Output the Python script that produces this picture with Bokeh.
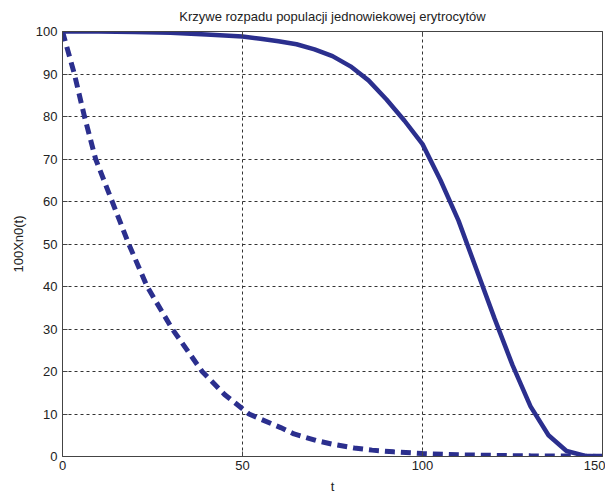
from bokeh.plotting import figure
from bokeh.models import LinearAxis, Range1d, FixedTicker
from bokeh.embed import file_html
from bokeh.resources import INLINE

# Solid curve: age-homogeneous population
t_solid = [0, 10, 20, 30, 40, 50, 55, 60, 65, 70, 75, 80, 85, 90, 95, 100,
           105, 110, 115, 120, 125, 130, 135, 140, 145, 150]
v_solid = [100, 100, 99.9, 99.7, 99.3, 98.8, 98.3, 97.7, 97.0, 95.8, 94.2, 91.8,
           88.5, 84.0, 79.0, 73.5, 65.0, 55.5, 44.0, 32.5, 21.5, 11.8, 5.0, 1.3, 0.2, 0.0]

# Dashed curve
t_dash = [0, 3.3, 6.1, 9.2, 13.8, 18.4, 23.5, 30.5, 38.8, 45, 51.8, 55, 60.6, 64.3,
          70.7, 75, 81, 86, 92, 100, 110, 120, 130, 140, 150]
v_dash = [100, 90, 80, 70, 60, 50, 40, 30, 20, 14.6, 10, 8.8, 6.8, 5.3,
          3.7, 2.9, 2.0, 1.5, 1.1, 0.7, 0.4, 0.25, 0.15, 0.1, 0.05]

x_ticks = [0, 50, 100, 150]
y_ticks = [0, 10, 20, 30, 40, 50, 60, 70, 80, 90, 100]

title = "Krzywe rozpadu populacji jednowiekowej erytrocytów"
color = "#2b2f8e"
font = "Liberation Sans"

p = figure(width=605, height=496, output_backend="svg", toolbar_location=None,
           x_range=Range1d(0, 150), y_range=Range1d(0, 100),
           min_border_left=62, min_border_right=3, min_border_top=31, min_border_bottom=30)

p.title.text = title
p.title.align = "center"
p.title.vertical_align = "top"
p.title.text_font = font
p.title.text_font_size = "13px"
p.title.text_font_style = "normal"
p.title.text_color = "#222222"
p.title.standoff = 12

p.line(t_solid, v_solid, line_width=4.5, line_color=color)
p.line(t_dash, v_dash, line_width=5, line_color=color, line_dash="10 6")

for ax in (p.xaxis[0], p.yaxis[0]):
    ax.major_tick_in = 5
    ax.major_tick_out = 0
    ax.minor_tick_line_color = None
    ax.major_label_text_font = font
    ax.major_label_text_font_size = "13px"
    ax.major_label_text_color = "#222222"
    ax.axis_label_text_font = font
    ax.axis_label_text_font_size = "13px"
    ax.axis_label_text_font_style = "normal"
    ax.axis_label_text_color = "#222222"
    ax.axis_line_color = "#444444"
    ax.major_tick_line_color = "#444444"

p.xaxis[0].ticker = FixedTicker(ticks=x_ticks)
p.yaxis[0].ticker = FixedTicker(ticks=y_ticks)
p.xaxis[0].axis_label = "t"
p.yaxis[0].axis_label = "100Xn0(t)"
p.xaxis[0].axis_label_standoff = 6
p.yaxis[0].axis_label_standoff = 7
p.xaxis[0].major_label_standoff = 4
p.yaxis[0].major_label_standoff = 5

top = LinearAxis(ticker=FixedTicker(ticks=x_ticks),
                 major_label_overrides={t: "" for t in x_ticks},
                 major_label_text_font_size="1px",
                 major_tick_in=5, major_tick_out=0, minor_tick_line_color=None,
                 major_label_standoff=0,
                 axis_line_color="#444444", major_tick_line_color="#444444")
right = LinearAxis(ticker=FixedTicker(ticks=y_ticks),
                   major_label_overrides={t: "" for t in y_ticks},
                   major_label_text_font_size="1px",
                   major_tick_in=5, major_tick_out=0, minor_tick_line_color=None,
                   major_label_standoff=0,
                   axis_line_color="#444444", major_tick_line_color="#444444")
p.add_layout(top, "above")
p.add_layout(right, "right")

for g in (p.xgrid[0], p.ygrid[0]):
    g.grid_line_color = "#333333"
    g.grid_line_dash = "3 3"
    g.grid_line_width = 1

p.outline_line_color = None
p.background_fill_color = "white"
p.border_fill_color = "white"

open("out.html", "w").write(file_html(p, INLINE))
